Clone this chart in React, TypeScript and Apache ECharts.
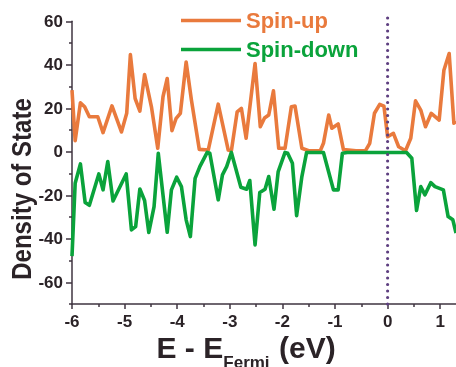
import React, { useEffect, useRef } from "react";
import * as echarts from "echarts";

const spinUpEnergy = [
  -6.0, -5.94, -5.84, -5.76, -5.67, -5.51, -5.41, -5.24, -5.06, -4.96, -4.89, -4.8, -4.71, -4.62, -4.49,
  -4.37, -4.27, -4.19, -4.1, -4.02, -3.94, -3.83, -3.73, -3.58, -3.41, -3.22, -3.03, -2.97, -2.86, -2.78,
  -2.69, -2.52, -2.42, -2.34, -2.26, -2.17, -2.07, -1.95, -1.83, -1.76, -1.63, -1.5, -1.28, -1.22, -1.12,
  -1.06, -0.94, -0.84, -0.6, -0.42, -0.34, -0.25, -0.15, -0.07, 0.0, 0.11, 0.21, 0.34, 0.44, 0.53, 0.63,
  0.72, 0.83, 0.98, 1.07, 1.17, 1.26, 1.3,
];
const spinUpDos = [
  28.3, 5.1, 22.5, 20.7, 16.1, 16.1, 8.8, 21.1, 9.1, 17.7, 44.7, 24.5, 18.7, 35.5, 20.7,
  1.6, 25.3, 33.7, 9.7, 15.4, 17.7, 41.3, 23.8, 1.1, 0.8, 21.9, 0.8, 0.5, 18.4, 20.0,
  6.2, 40.6, 11.5, 15.5, 16.9, 28.0, 1.6, 1.6, 20.7, 21.0, 1.6, 0.5, 0.5, 3.9, 16.9,
  10.8, 12.8, 1.0, 0.5, 0.5, 3.9, 17.7, 21.8, 21.0, 6.9, 8.5, 2.3, 0.5, 6.2, 23.4, 19.2,
  11.5, 17.7, 14.6, 37.5, 45.2, 13.1, 14.0,
];

const spinDownEnergy = [
  -6.0, -5.94, -5.84, -5.75, -5.67, -5.49, -5.41, -5.32, -5.22, -4.97, -4.87, -4.79, -4.71, -4.62, -4.54,
  -4.44, -4.36, -4.19, -4.11, -4.01, -3.92, -3.83, -3.75, -3.66, -3.57, -3.43, -3.38, -3.22, -3.14, -3.06,
  -2.97, -2.79, -2.68, -2.62, -2.52, -2.43, -2.33, -2.26, -2.16, -2.08, -1.95, -1.9, -1.81, -1.73, -1.63,
  -1.54, -1.22, -1.03, -0.94, -0.86, -0.77, 0.36, 0.46, 0.55, 0.63, 0.71, 0.82, 0.9, 1.06, 1.15, 1.24, 1.3,
];
const spinDownDos = [
  -48, -14.5, -5.6, -23.3, -24.6, -10.2, -17.5, -4.5, -22.6, -10.2, -35.9, -34.4, -17.1, -22.4, -37.1,
  -25.2, -0.7, -37, -17.5, -11.7, -16, -31.3, -39, -12.2, -6.8, -0.3, -0.7, -22.1, -10.6, -6.8,
  -0.3, -16.3, -17.2, -13.2, -42.8, -18.7, -17.2, -11.4, -26.4, -9.1, -0.3, -0.7, -5.3, -29.4, -11.4,
  -0.3, -0.3, -17.5, -17.5, -0.7, -0.3, -0.3, -3, -27, -16, -19.8, -14.2, -16, -17.5, -29.8, -31.3, -37.4,
];

const xMajorTicks = [-6, -5, -4, -3, -2, -1, 0, 1];
const xMinorTicks = [-5.5, -4.5, -3.5, -2.5, -1.5, -0.5, 0.5];
const yMajorTicks = [-60, -40, -20, 0, 20, 40, 60];
const yMinorTicks = [-70, -50, -30, -10, 10, 30, 50];

const fermiLevel = 0;
const fermiLineRange = [-70, 63];

const ORANGE = "#E97A3D";
const GREEN = "#0AA33B";
const PURPLE = "#5E3F80";
const AXIS = "#3f3540";
const TEXT = "#2b2327";
const FONT = "'Liberation Sans', Arial, Helvetica, sans-serif";

export default function App() {
  const ref = useRef<HTMLDivElement>(null);
  useEffect(() => {
    if (!ref.current) return;
    const chart = echarts.init(ref.current, undefined, { renderer: "svg" });
    const upData = spinUpEnergy.map((e, i) => [e, spinUpDos[i]]);
    const downData = spinDownEnergy.map((e, i) => [e, spinDownDos[i]]);
    const fermiData = fermiLineRange.map((v) => [fermiLevel, v]);

    const labelStyle = { fontSize: 17, fontWeight: "bold" as const, color: TEXT, fontFamily: FONT };

    chart.setOption({
      animation: false,
      grid: { left: 72, right: 0, top: 21.3, bottom: 63, containLabel: false },
      legend: {
        orient: "vertical",
        left: 181,
        top: 9,
        padding: 0,
        itemWidth: 60,
        itemHeight: 3.5,
        itemGap: 6,
        icon: "rect",
        textStyle: { fontSize: 22, fontWeight: "bold", fontFamily: FONT, lineHeight: 23 },
        data: [
          { name: "Spin-up", icon: "rect", itemStyle: { color: ORANGE }, textStyle: { color: ORANGE } },
          { name: "Spin-down", icon: "rect", itemStyle: { color: GREEN }, textStyle: { color: GREEN } },
        ],
      },
      xAxis: [
        {
          type: "value",
          min: -6,
          max: 1.3,
          position: "bottom",
          axisLine: { show: true, onZero: false, lineStyle: { color: AXIS, width: 1.5 } },
          axisTick: { show: true, length: 5, customValues: xMajorTicks, lineStyle: { color: AXIS, width: 1.5 } },
          axisLabel: { ...labelStyle, margin: 9, customValues: xMajorTicks },
          splitLine: { show: false },
        },
        {
          type: "value",
          min: -6,
          max: 1.3,
          position: "bottom",
          axisLine: { show: false, onZero: false },
          axisTick: { show: true, length: 3, customValues: xMinorTicks, lineStyle: { color: AXIS, width: 1.5 } },
          axisLabel: { show: false },
          splitLine: { show: false },
        },
      ],
      yAxis: [
        {
          type: "value",
          min: -70,
          max: 60,
          position: "left",
          axisLine: { show: true, onZero: false, lineStyle: { color: AXIS, width: 1.5 } },
          axisTick: { show: true, length: 6, customValues: yMajorTicks, lineStyle: { color: AXIS, width: 1.5 } },
          axisLabel: { ...labelStyle, margin: 9, customValues: yMajorTicks },
          splitLine: { show: false },
        },
        {
          type: "value",
          min: -70,
          max: 60,
          position: "left",
          axisLine: { show: false, onZero: false },
          axisTick: { show: true, length: 3, customValues: yMinorTicks, lineStyle: { color: AXIS, width: 1.5 } },
          axisLabel: { show: false },
          splitLine: { show: false },
        },
      ],
      series: [
        {
          name: "Spin-up",
          type: "line",
          xAxisIndex: 0,
          yAxisIndex: 0,
          data: upData,
          symbol: "none",
          color: ORANGE,
          lineStyle: { color: ORANGE, width: 3.6, join: "round" },
          z: 2,
        },
        {
          name: "Spin-down",
          type: "line",
          xAxisIndex: 0,
          yAxisIndex: 0,
          data: downData,
          symbol: "none",
          color: GREEN,
          lineStyle: { color: GREEN, width: 3.6, join: "round" },
          z: 3,
        },
        {
          name: "Fermi",
          type: "line",
          xAxisIndex: 0,
          yAxisIndex: 0,
          data: fermiData,
          symbol: "none",
          clip: false,
          lineStyle: { color: PURPLE, width: 3.2, type: [0, 6.5], cap: "round" },
          z: 4,
        },
      ],
      graphic: [
        {
          type: "text",
          x: 21.7,
          y: 189,
          rotation: Math.PI / 2,
          scaleX: 0.89,
          style: {
            text: "Density of State",
            fontSize: 27,
            fontWeight: "bold",
            fontFamily: FONT,
            fill: TEXT,
            align: "center",
            verticalAlign: "middle",
          },
        },
        {
          type: "text",
          x: 156.5,
          y: 347.5,
          style: { text: "E - E", fontSize: 30, fontWeight: "bold", fontFamily: FONT, fill: TEXT, align: "left", verticalAlign: "middle" },
        },
        {
          type: "text",
          x: 223.3,
          y: 362.5,
          style: { text: "Fermi", fontSize: 17, fontWeight: "bold", fontFamily: FONT, fill: TEXT, align: "left", verticalAlign: "middle" },
        },
        {
          type: "text",
          x: 279,
          y: 347.5,
          style: { text: "(eV)", fontSize: 30, fontWeight: "bold", fontFamily: FONT, fill: TEXT, align: "left", verticalAlign: "middle" },
        },
      ],
    });
    return () => chart.dispose();
  }, []);
  return <div ref={ref} style={{ position: "fixed", left: 0, top: 0, width: 456, height: 367 }} />;
}
